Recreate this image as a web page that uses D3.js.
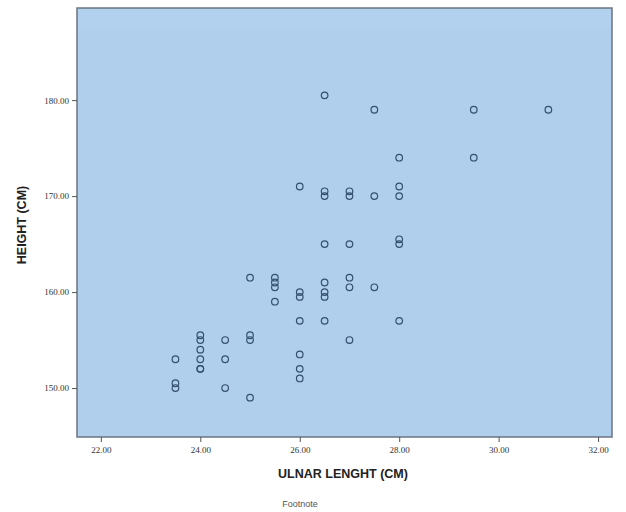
<!DOCTYPE html>
<html>
<head>
<meta charset="utf-8">
<script src="https://cdnjs.cloudflare.com/ajax/libs/d3/7.8.5/d3.min.js"></script>
<style>
  body { margin: 0; background: #fff; }
</style>
</head>
<body>
<script>
// ulnar length (cm) per column and the heights (cm) read at each column
var ulnaValues = [23.5, 24.0, 24.5, 25.0, 25.5, 26.0, 26.5, 27.0, 27.5, 28.0, 29.5, 31.0];
var heightValues = [
    [153, 150.5, 150],
    [155.5, 155, 154, 153, 152, 152],
    [155, 153, 150],
    [161.5, 155.5, 155, 149],
    [161.5, 161, 160.5, 159],
    [171, 160, 159.5, 157, 153.5, 152, 151],
    [180.5, 170.5, 170, 165, 161, 160, 159.5, 157],
    [170.5, 170, 165, 161.5, 160.5, 155],
    [179, 170, 160.5],
    [174, 171, 170, 165.5, 165, 157],
    [179, 174],
    [179]
];
var xTicks = [22, 24, 26, 28, 30, 32];
var yTicks = [150, 160, 170, 180];

var width = 626, height = 512;
var plotLeft = 77, plotRight = 612, plotTop = 8, plotBottom = 437;

var points = [];
ulnaValues.forEach(function(u, i) {
    heightValues[i].forEach(function(h) { points.push({ x: u, y: h }); });
});

var svg = d3.select("body").append("svg")
    .attr("width", width)
    .attr("height", height);

var x = d3.scaleLinear().domain([21.52, 32.28]).range([plotLeft, plotRight]);
var y = d3.scaleLinear().domain([144.9, 189.6]).range([plotBottom, plotTop]);

// plot area
svg.append("rect")
    .attr("x", plotLeft)
    .attr("y", plotTop)
    .attr("width", plotRight - plotLeft)
    .attr("height", plotBottom - plotTop)
    .style("fill", "#afcfed")
    .style("stroke", "#6b7480")
    .style("stroke-width", 1.5);

svg.append("rect")
    .attr("x", plotLeft + 1)
    .attr("y", plotTop + 1)
    .attr("width", plotRight - plotLeft - 2)
    .attr("height", 20)
    .style("fill", "#b2d1ee");

var xAxis = svg.append("g")
    .attr("transform", "translate(0," + plotBottom + ")")
    .call(d3.axisBottom(x).tickValues(xTicks).tickFormat(d3.format(".2f")).tickSize(5).tickSizeOuter(0));
xAxis.select(".domain").remove();

var yAxis = svg.append("g")
    .attr("transform", "translate(" + plotLeft + ",0)")
    .call(d3.axisLeft(y).tickValues(yTicks).tickFormat(d3.format(".2f")).tickSize(5).tickSizeOuter(0));
yAxis.select(".domain").remove();

svg.selectAll(".tick line").style("stroke", "#555");
svg.selectAll(".tick text")
    .attr("font-family", "Liberation Serif")
    .style("font-size", "9px")
    .style("fill", "#333");
xAxis.selectAll(".tick text").attr("dy", "0.9em");

// points
svg.append("g").selectAll("circle")
    .data(points)
    .enter().append("circle")
    .attr("cx", function(d) { return x(d.x); })
    .attr("cy", function(d) { return y(d.y); })
    .attr("r", 3.3)
    .style("fill", "none")
    .style("stroke", "#34506c")
    .style("stroke-width", 1.2);

// titles
svg.append("text")
    .attr("x", 343)
    .attr("y", 478)
    .style("text-anchor", "middle")
    .attr("font-family", "Liberation Sans")
    .style("font-weight", "bold")
    .style("font-size", "12.5px")
    .style("fill", "#222")
    .text("ULNAR LENGHT (CM)");

svg.append("text")
    .attr("transform", "translate(26,225) rotate(-90)")
    .style("text-anchor", "middle")
    .attr("font-family", "Liberation Sans")
    .style("font-weight", "bold")
    .style("font-size", "12.5px")
    .style("fill", "#222")
    .text("HEIGHT (CM)");

svg.append("text")
    .attr("x", 300)
    .attr("y", 507)
    .style("text-anchor", "middle")
    .attr("font-family", "Liberation Sans")
    .style("font-size", "9px")
    .style("fill", "#555")
    .text("Footnote");
</script>
</body>
</html>
